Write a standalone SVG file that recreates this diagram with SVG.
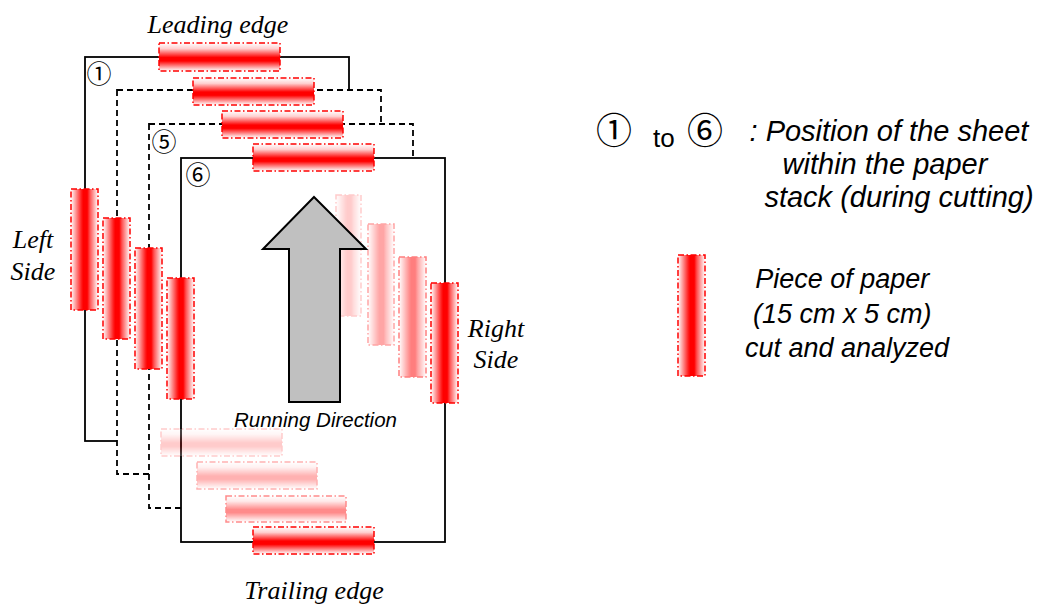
<svg xmlns="http://www.w3.org/2000/svg" width="1046" height="604" viewBox="0 0 1046 604">
  <defs>
    <!-- shading for pieces lying along a top/bottom edge (red band across the middle) -->
    <linearGradient id="shadeH" x1="0" y1="0" x2="0" y2="1">
      <stop offset="0" stop-color="#ffffff"/>
      <stop offset="0.2" stop-color="#ffd0d0"/>
      <stop offset="0.52" stop-color="#ff0000"/>
      <stop offset="0.64" stop-color="#ff0000"/>
      <stop offset="0.92" stop-color="#ffcccc"/>
      <stop offset="1" stop-color="#ffffff"/>
    </linearGradient>
    <!-- shading for pieces lying along a left/right edge -->
    <linearGradient id="shadeV" x1="0" y1="0" x2="1" y2="0">
      <stop offset="0" stop-color="#ffffff"/>
      <stop offset="0.38" stop-color="#ff2020"/>
      <stop offset="0.45" stop-color="#ff0000"/>
      <stop offset="0.6" stop-color="#ff0000"/>
      <stop offset="0.7" stop-color="#ff5050"/>
      <stop offset="1" stop-color="#ffffff"/>
    </linearGradient>
  </defs>
  <style>
    .sheet { fill: #ffffff; stroke: #000000; stroke-width: 1.8; }
    .dashed { stroke-dasharray: 6 4; }
    .ph { fill: url(#shadeH); stroke: #ff0000; stroke-width: 1.5; stroke-dasharray: 6 2.5 1.5 2.5; }
    .pv { fill: url(#shadeV); stroke: #ff0000; stroke-width: 1.5; stroke-dasharray: 6 2.5 1.5 2.5; }
    .serif { font-family: "Liberation Serif", "Times New Roman", serif; font-style: italic; font-size: 26px; fill: #000; }
    .sans { font-family: "Liberation Sans", Arial, sans-serif; font-style: italic; fill: #000; }
    .num { font-family: "Noto Sans CJK JP", "DejaVu Sans", sans-serif; fill: #000; }
  </style>

  <rect width="1046" height="604" fill="#ffffff"/>

  <!-- stack of sheets, back to front -->
  <g id="sheet-1">
    <rect class="sheet" x="85" y="57" width="264" height="384"/>
    <text class="num" x="99" y="82.5" font-size="25" text-anchor="middle">①</text>
  </g>
  <g id="sheet-2">
    <rect class="sheet dashed" x="117" y="90" width="264" height="384"/>
  </g>
  <g id="sheet-5">
    <rect class="sheet dashed" x="149" y="124" width="264" height="384"/>
    <text class="num" x="164" y="150.5" font-size="25" text-anchor="middle">⑤</text>
  </g>
  <g id="sheet-6">
    <rect class="sheet" x="181" y="158" width="264" height="384"/>
    <text class="num" x="198" y="183.5" font-size="25" text-anchor="middle">⑥</text>
  </g>

  <!-- pieces seen through the top sheet (right side and trailing edge) -->
  <g id="hidden-pieces">
    <rect class="pv" x="336" y="195" width="25" height="121" opacity="0.2"/>
    <rect class="pv" x="368" y="224" width="26" height="121" opacity="0.35"/>
    <rect class="pv" x="399" y="257" width="27" height="120" opacity="0.5"/>
    <rect class="ph" x="161" y="429" width="121" height="27" opacity="0.2"/>
    <rect class="ph" x="197" y="462" width="120" height="27" opacity="0.3"/>
    <rect class="ph" x="226" y="496" width="120" height="26" opacity="0.45"/>
  </g>

  <!-- visible pieces -->
  <g id="visible-pieces">
    <rect class="ph" x="159" y="43" width="121" height="28"/>
    <rect class="ph" x="193" y="78" width="121" height="27"/>
    <rect class="ph" x="222" y="111" width="121" height="27"/>
    <rect class="ph" x="253" y="144" width="121" height="27"/>
    <rect class="pv" x="71" y="189" width="27" height="121"/>
    <rect class="pv" x="103" y="218" width="27" height="121"/>
    <rect class="pv" x="135" y="248" width="27" height="121"/>
    <rect class="pv" x="167" y="278" width="27" height="121"/>
    <rect class="pv" x="431" y="283" width="27" height="120"/>
    <rect class="ph" x="253" y="527" width="121" height="27"/>
  </g>

  <!-- running direction arrow -->
  <g id="direction">
    <polygon points="314,197 366,249 340,249 340,402 289,402 289,249 263,249" fill="#c0c0c0" stroke="#000000" stroke-width="2" stroke-linejoin="miter"/>
    <text class="sans" x="315.5" y="427" font-size="20.5" text-anchor="middle">Running Direction</text>
  </g>

  <!-- edge labels -->
  <g id="labels">
    <text class="serif" x="218" y="33" text-anchor="middle">Leading edge</text>
    <text class="serif" x="314" y="599" text-anchor="middle">Trailing edge</text>
    <text class="serif" x="33" y="248" text-anchor="middle">Left</text>
    <text class="serif" x="33" y="280" text-anchor="middle">Side</text>
    <text class="serif" x="496" y="337" text-anchor="middle">Right</text>
    <text class="serif" x="496" y="368" text-anchor="middle">Side</text>
  </g>

  <!-- legend -->
  <g id="legend-positions">
    <text class="num" x="614" y="144" font-size="36" text-anchor="middle">①</text>
    <text x="653" y="147" font-family="'Liberation Sans', Arial, sans-serif" font-size="26">to</text>
    <text class="num" x="705" y="144" font-size="36" text-anchor="middle">⑥</text>
    <text class="sans" font-size="29" text-anchor="middle">
      <tspan x="893" y="141">: Position of the sheet</tspan>
      <tspan x="889" y="174">within the paper</tspan>
      <tspan x="899" y="207">stack (during cutting)</tspan>
    </text>
  </g>
  <g id="legend-piece">
    <rect class="pv" x="678" y="255" width="27" height="121"/>
    <text class="sans" font-size="27" text-anchor="middle">
      <tspan x="846" y="288">Piece of paper</tspan>
      <tspan x="846" y="323">(15 cm x 5 cm)</tspan>
      <tspan x="847" y="357">cut and analyzed</tspan>
    </text>
  </g>
</svg>
